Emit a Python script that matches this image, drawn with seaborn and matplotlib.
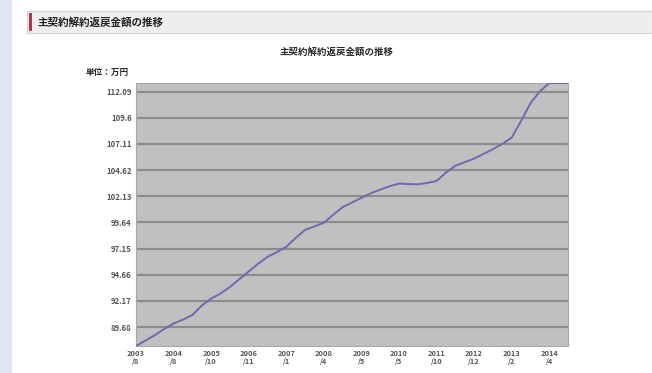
import matplotlib
matplotlib.use("Agg")
import matplotlib.pyplot as plt
import matplotlib.patches as mpatches
import numpy as np
import pandas as pd
import seaborn as sns

# Surrender value of the main contract (unit: 10,000 yen), one value per period
values = [
    87.88, 88.39, 88.91, 89.49, 90.02, 90.39, 90.83, 91.72, 92.39, 92.87,
    93.50, 94.23, 94.97, 95.71, 96.36, 96.81, 97.31, 98.16, 98.92, 99.26,
    99.60, 100.36, 101.09, 101.53, 101.97, 102.41, 102.75, 103.08, 103.33, 103.29,
    103.26, 103.39, 103.58, 104.37, 105.03, 105.37, 105.71, 106.15, 106.60, 107.11,
    107.70, 109.28, 110.97, 112.10, 112.90, 112.90, 112.90,
]
# Date labels shown under every fourth period
tick_labels = [
    "2003\n/8", "2004\n/8", "2005\n/10", "2006\n/11", "2007\n/1", "2008\n/4",
    "2009\n/5", "2010\n/5", "2011\n/10", "2012\n/12", "2013\n/2", "2014\n/4",
]
y_ticks = [89.68, 92.17, 94.66, 97.15, 99.64, 102.13, 104.62, 107.11, 109.60, 112.09]
y_tick_labels = ["89.68", "92.17", "94.66", "97.15", "99.64",
                 "102.13", "104.62", "107.11", "109.6", "112.09"]

title = "主契約解約返戻金額の推移"
unit_label = "単位：万円"

sns.set_theme(style="white")
plt.rcParams["font.family"] = ["Noto Sans CJK JP", "DejaVu Sans"]

W, H = 652, 373
fig = plt.figure(figsize=(W / 100, H / 100), dpi=100)
fig.patch.set_facecolor("white")

def fx(px):
    return px / W

def fy(py):
    return 1 - py / H

# page side strip
fig.patches.append(mpatches.Rectangle((0, 0), fx(12), 1, transform=fig.transFigure,
                                      facecolor="#dfe7f4", edgecolor="none", zorder=0))
# section header bar
fig.patches.append(mpatches.Rectangle((fx(27), fy(33)), 1 - fx(27), fy(11) - fy(33),
                                      transform=fig.transFigure, facecolor="#eeeeee",
                                      edgecolor="#d4d4d4", linewidth=0.8, zorder=0))
fig.patches.append(mpatches.Rectangle((fx(29), fy(31)), fx(2.5), fy(13) - fy(31),
                                      transform=fig.transFigure, facecolor="#b3344f",
                                      edgecolor="none", zorder=1))
fig.text(fx(37), fy(22), title, fontsize=7.6, fontweight="bold", color="#222222",
         ha="left", va="center")

# chart title and unit
fig.text(fx(336), fy(52), title, fontsize=6.8, fontweight="bold", color="#2a2a2a",
         ha="center", va="center")
fig.text(fx(86), fy(72), unit_label, fontsize=6.2, fontweight="bold", color="#2a2a2a",
         ha="left", va="center")

left, right, top, bottom = 136, 568, 83, 346
ax = fig.add_axes([fx(left), fy(bottom), fx(right) - fx(left), fy(top) - fy(bottom)])
ax.set_facecolor("#c0c0c0")

df = pd.DataFrame({"period": np.arange(len(values)), "value": values})
sns.lineplot(data=df, x="period", y="value", ax=ax, color="#6b6bb0", linewidth=1.4, zorder=3)

ax.set_xlim(0, len(values) - 1)
ax.set_ylim(min(values), max(values))
ax.set_yticks(y_ticks)
ax.set_yticklabels(y_tick_labels, fontsize=5.6, fontweight="bold", color="#555555")
ax.set_xticks(np.arange(0, len(values), 4)[:len(tick_labels)])
ax.set_xticklabels(tick_labels, fontsize=5.4, fontweight="bold", color="#555555",
                   linespacing=1.1)
ax.tick_params(axis="both", length=0, pad=3)
ax.set_xlabel("")
ax.set_ylabel("")
ax.grid(axis="y", color="#8c8c8c", linewidth=1.6, zorder=1)
ax.grid(axis="x", visible=False)
for s in ax.spines.values():
    s.set_visible(True)
    s.set_color("#a8a8a8")
    s.set_linewidth(0.8)

fig.savefig("out.png", dpi=100)
